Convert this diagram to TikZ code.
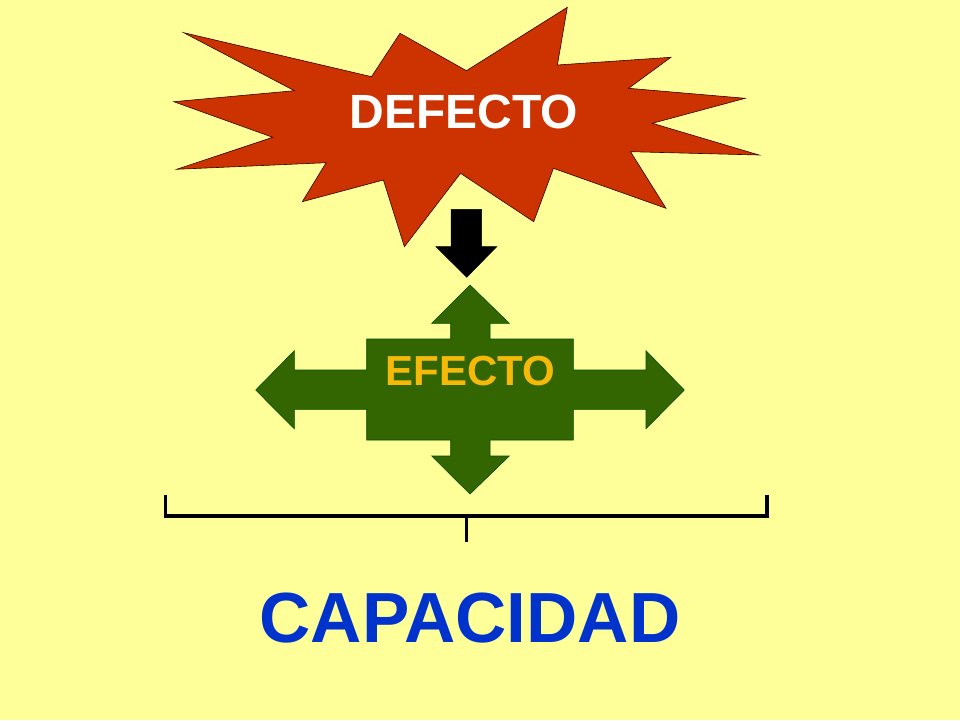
\documentclass[tikz,border=0pt]{standalone}
\usepackage{fontspec}
\setmainfont{Liberation Sans}
\definecolor{bgyellow}{RGB}{255,255,153}
\definecolor{burstred}{RGB}{204,51,0}
\definecolor{crossgreen}{RGB}{51,102,0}
\definecolor{goldtext}{RGB}{245,185,10}
\definecolor{capblue}{RGB}{0,51,204}
\tikzset{
  burst/.style={fill=burstred, draw=black!80!red, line width=0.6pt, line join=miter},
  cross/.style={fill=crossgreen, draw=black!70!green, line width=0.6pt},
  blackarrow/.style={fill=black, draw=black, line width=0.5pt},
  bracketline/.style={draw=black, line width=3.2pt},
  label/.style={inner sep=0pt, font=\bfseries}
}
\begin{document}
\begin{tikzpicture}[x=1pt,y=-1pt]
\useasboundingbox (0,0) rectangle (960,720);
\fill[bgyellow] (0,0) rectangle (960,720);
% starburst
\path[burst] (183.7,32.7) -- (371.5,76.7) -- (400,33.3) -- (466.4,70.7) -- (567.3,7.3) -- (557.4,65)
  -- (670.9,57.3) -- (628.6,88.3) -- (745.2,98.3) -- (652.3,123.3) -- (759,155) -- (630.5,151.7)
  -- (666,208.3) -- (553.4,168.3) -- (533.7,221.7) -- (460.5,173.3) -- (404.4,246.7) -- (383.4,180)
  -- (302.3,201.7) -- (326.1,162.7) -- (176.6,169.3) -- (272.7,137.3) -- (173.8,101.7) -- (294.4,90.7) -- cycle;
\node[label, text=white, font=\bfseries\fontsize{48}{48}\selectfont] (defecto) at (464,112) {DEFECTO};
% black down arrow
\path[blackarrow] (451,209.3) -- (481.7,209.3) -- (481.7,246.7) -- (496.7,246.7) -- (466.7,277.3)
  -- (436,246.7) -- (451,246.7) -- cycle;
% green cross arrow
\path[cross] (470,285) -- (509.3,323.3) -- (490,323.3) -- (490,339) -- (573.3,339) -- (573.3,370)
  -- (646,370) -- (646,350.7) -- (684.3,390) -- (646,428.7) -- (646,409.3) -- (573.3,409.3)
  -- (573.3,440) -- (490,440) -- (490,456) -- (509.3,456) -- (470,494) -- (431.7,456) -- (450.7,456)
  -- (450.7,440) -- (366.7,440) -- (366.7,409.3) -- (294.3,409.3) -- (294.3,428.7) -- (255.7,390)
  -- (294.3,350.7) -- (294.3,370) -- (366.7,370) -- (366.7,339) -- (450.7,339) -- (450.7,323.3)
  -- (431.7,323.3) -- cycle;
\node[label, text=goldtext, font=\bfseries\fontsize{42}{42}\selectfont] (efecto) at (470.5,371) {EFECTO};
% bracket
\coordinate (bl) at (165.5,495);
\coordinate (br) at (767,495);
\coordinate (bm) at (466.3,516);
\coordinate (bs) at (466.3,542);
\draw[bracketline] (bl) -- (165.5,516) -- (767,516) -- (br);
\draw[bracketline] (bm) -- (bs);
\node[label, text=capblue, font=\bfseries\fontsize{71}{71}\selectfont] (capacidad) at (470,618.5) {CAPACIDAD};
\end{tikzpicture}
\end{document}
